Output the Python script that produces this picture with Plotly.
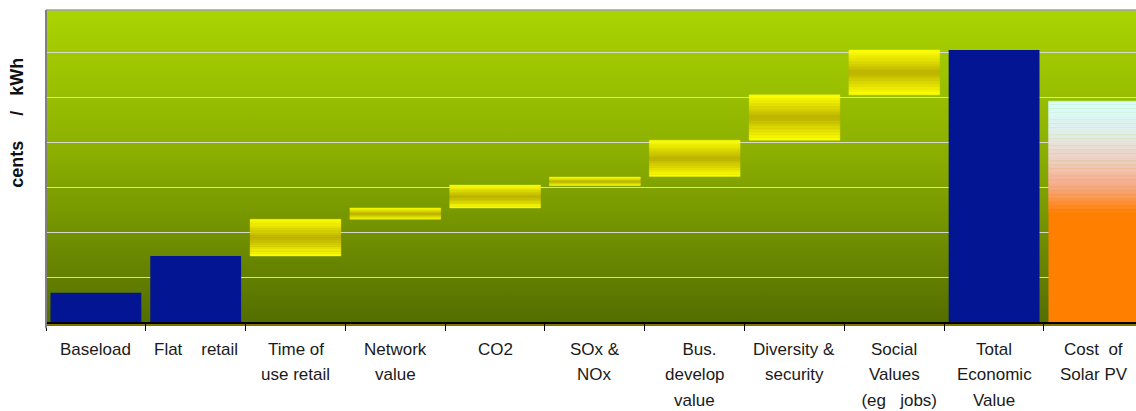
import base64
import plotly.graph_objects as go

# ---------------- data ----------------
categories = ["Baseload", "Flat retail", "Time of use retail", "Network value", "CO2",
              "SOx & NOx", "Bus. develop value", "Diversity & security",
              "Social Values (eg jobs)", "Total Economic Value", "Cost of Solar PV"]
label_lines = [["Baseload"], ["Flat\u00a0\u00a0\u00a0\u00a0retail"], ["Time of", "use retail"],
               ["Network", "value"], ["CO2"], ["SOx &", "NOx"], ["\u00a0\u00a0Bus.", "develop", "value"],
               ["Diversity &", "security"], ["Social", "Values", "\u00a0\u00a0(eg\u00a0\u00a0\u00a0jobs)"],
               ["Total", "Economic", "Value"], ["Cost\u00a0\u00a0of", "Solar PV"]]
bar_low = [0, 0, 1.47, 2.29, 2.54, 3.04, 3.24, 4.05, 5.06, 0, 0]
bar_high = [0.65, 1.47, 2.29, 2.54, 3.05, 3.23, 4.05, 5.06, 6.06, 6.06, 4.92]
bar_kind = ["solid", "solid", "step", "step", "step", "step", "step", "step", "step", "solid", "solar"]
y_title = "cents\u00a0\u00a0\u00a0\u00a0\u00a0/\u00a0\u00a0\u00a0kWh"

# ---------------- style ----------------
BLUE = "#031592"
BAR_W = 0.91
N_STEP = 16
N_SOLAR = 30
SOLAR_GRAD_FRAC = 0.506  # top part of the solar bar that carries the gradient


def lerp(c1, c2, t):
    return tuple(round(a + (b - a) * t) for a, b in zip(c1, c2))


def rgb(c):
    return "rgb(%d,%d,%d)" % c


def yellow_color(t):  # t: 0 top .. 1 bottom
    d = 1 - abs(2 * t - 1)
    d = d ** 1.15
    return rgb(lerp((255, 255, 0), (188, 176, 0), d))


solar_stops = [(0.0, (214, 255, 255)), (0.3, (226, 236, 232)), (0.55, (240, 204, 190)),
               (0.78, (250, 166, 128)), (1.0, (255, 128, 0))]


def solar_color(t):
    for (t0, c0), (t1, c1) in zip(solar_stops[:-1], solar_stops[1:]):
        if t <= t1:
            return rgb(lerp(c0, c1, (t - t0) / (t1 - t0)))
    return rgb(solar_stops[-1][1])


fig = go.Figure()

# solid blue bars
sx = [c for c, k in zip(categories, bar_kind) if k == "solid"]
sl = [l for l, k in zip(bar_low, bar_kind) if k == "solid"]
sh = [h for h, k in zip(bar_high, bar_kind) if k == "solid"]
fig.add_trace(go.Bar(x=sx, base=sl, y=[h - l for h, l in zip(sh, sl)], width=BAR_W,
                     marker=dict(color=BLUE, line=dict(width=0)), showlegend=False))

# floating yellow step bars, drawn as horizontal bands
stx = [c for c, k in zip(categories, bar_kind) if k == "step"]
stl = [l for l, k in zip(bar_low, bar_kind) if k == "step"]
sth = [h for h, k in zip(bar_high, bar_kind) if k == "step"]
for k in range(N_STEP):
    col = yellow_color(1 - (k + 0.5) / N_STEP)
    fig.add_trace(go.Bar(x=stx,
                         base=[l + (h - l) * k / N_STEP for l, h in zip(stl, sth)],
                         y=[(h - l) / N_STEP for l, h in zip(stl, sth)],
                         width=BAR_W, marker=dict(color=col, line=dict(width=0.4, color=col)),
                         showlegend=False))

# solar bar: solid orange lower part + gradient upper part
for c, l, h, kind in zip(categories, bar_low, bar_high, bar_kind):
    if kind != "solar":
        continue
    g0 = h - (h - l) * SOLAR_GRAD_FRAC
    fig.add_trace(go.Bar(x=[c], base=[l], y=[g0 - l], width=BAR_W,
                         marker=dict(color="rgb(255,128,0)", line=dict(width=0)), showlegend=False))
    for k in range(N_SOLAR):
        col = solar_color(1 - (k + 0.5) / N_SOLAR)
        fig.add_trace(go.Bar(x=[c], base=[g0 + (h - g0) * k / N_SOLAR], y=[(h - g0) / N_SOLAR],
                             width=BAR_W, marker=dict(color=col, line=dict(width=0.4, color=col)),
                             showlegend=False))

# background gradient (image below grid)
svg = ('<svg xmlns="http://www.w3.org/2000/svg" width="100" height="100" preserveAspectRatio="none">'
       '<defs><linearGradient id="g" x1="0" y1="0" x2="0" y2="1">'
       '<stop offset="0" stop-color="#aad400"/>'
       '<stop offset="0.45" stop-color="#8cb000"/>'
       '<stop offset="0.75" stop-color="#6e8c00"/>'
       '<stop offset="1" stop-color="#546e00"/>'
       '</linearGradient></defs><rect width="100" height="100" fill="url(#g)"/></svg>')
src = "data:image/svg+xml;base64," + base64.b64encode(svg.encode()).decode()
fig.add_layout_image(dict(source=src, xref="paper", yref="paper", x=0, y=1, sizex=1, sizey=1,
                          sizing="stretch", layer="below", xanchor="left", yanchor="top"))

# category labels (one annotation per line)
annotations = []
for c, lines in zip(categories, label_lines):
    for i, line in enumerate(lines):
        annotations.append(dict(x=c, xref="x", y=0, yref="paper", text=line, showarrow=False,
                                yanchor="middle", xanchor="center", yshift=-(27 + 25.5 * i),
                                font=dict(family="Liberation Sans, Arial, sans-serif", size=17,
                                          color="#1a1a1a")))
annotations.append(dict(x=-0.0262, xref="paper", y=0.64, yref="paper", text="<b>" + y_title + "</b>",
                        textangle=-90, showarrow=False, xanchor="center", yanchor="middle",
                        font=dict(family="Liberation Sans, Arial, sans-serif", size=18, color="#111111")))

shapes = [
    dict(type="rect", xref="paper", yref="paper", x0=0, x1=1, y0=-0.0125, y1=0,
         fillcolor="#7e7200", line=dict(width=0), layer="below"),
    dict(type="line", xref="paper", yref="paper", x0=0, x1=1, y0=1, y1=1,
         line=dict(color="#a0a0a0", width=1.5)),
    dict(type="line", xref="paper", yref="paper", x0=0, x1=0, y0=-0.02, y1=1,
         line=dict(color="#808080", width=2)),
]

fig.update_layout(
    width=1136, height=411,
    margin=dict(l=46, r=0, t=10, b=89),
    paper_bgcolor="white", plot_bgcolor="rgba(0,0,0,0)",
    barmode="overlay", showlegend=False,
    annotations=annotations, shapes=shapes,
    xaxis=dict(type="category", categoryorder="array", categoryarray=categories,
               range=[-0.5, 10.422], showticklabels=False, ticks="outside", ticklen=7,
               tickcolor="black", tickwidth=1, tickson="boundaries", showgrid=False,
               showline=True, linecolor="black", linewidth=1.5, zeroline=False, fixedrange=True),
    yaxis=dict(range=[0, 6.95], dtick=1, showticklabels=False, ticks="", showgrid=True,
               gridcolor="rgba(220,220,210,0.95)", gridwidth=1.4, zeroline=False, showline=False,
               fixedrange=True),
)

fig.write_html("out.html")
